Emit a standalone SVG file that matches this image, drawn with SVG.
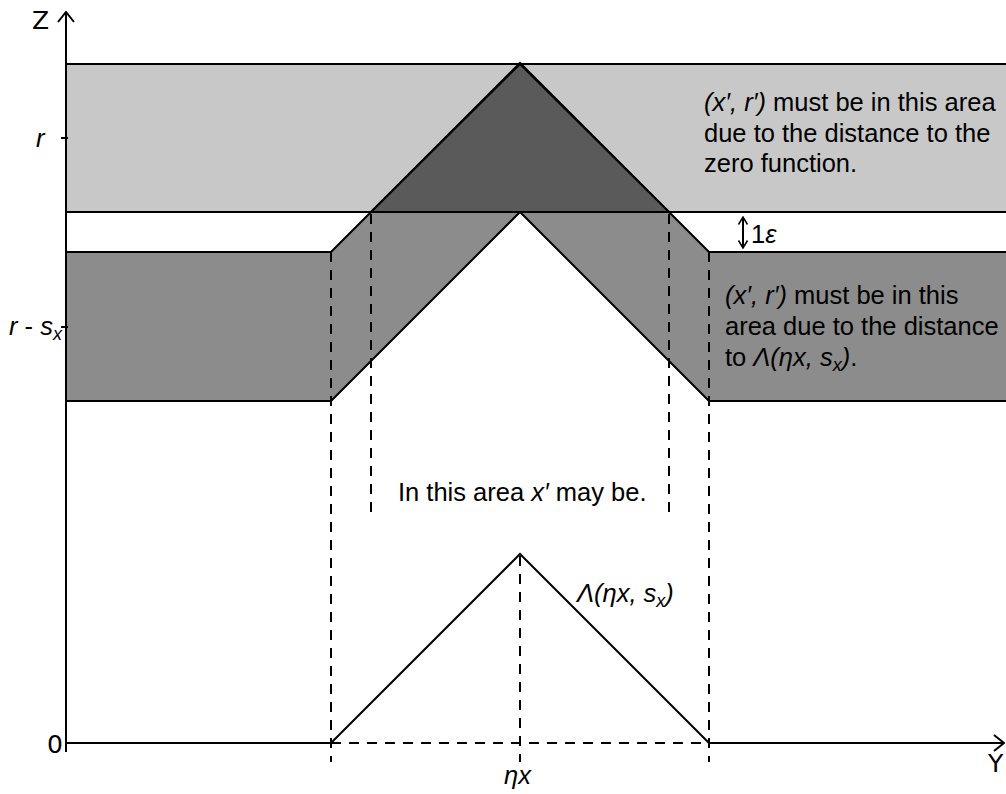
<svg xmlns="http://www.w3.org/2000/svg" width="1006" height="794" viewBox="0 0 1006 794">
<defs>
<style>
.ln{stroke:#000;stroke-width:2;fill:none}
.dash{stroke:#000;stroke-width:2;fill:none;stroke-dasharray:10,8}
.t{font-family:"Liberation Sans",Arial,sans-serif;font-size:25.5px;fill:#000}
.ax{font-family:"DejaVu Sans",sans-serif;font-size:25px;fill:#000}
.i{font-style:italic}
.sub{font-size:18px}
</style>
<marker id="open" viewBox="0 0 12 18" refX="11" refY="9" markerWidth="12" markerHeight="18" markerUnits="userSpaceOnUse" orient="auto-start-reverse">
<path d="M1,1 L11,9 L1,17" fill="none" stroke="#000" stroke-width="2"/>
</marker>
<marker id="small" viewBox="0 0 12 14" refX="11" refY="7" markerWidth="9" markerHeight="12" markerUnits="userSpaceOnUse" orient="auto-start-reverse">
<path d="M1,1 L11,7 L1,13" fill="none" stroke="#000" stroke-width="2"/>
</marker>
</defs>
<rect width="1006" height="794" fill="#fff"/>
<g id="zero-band">
<rect x="66" y="64" width="945" height="148" fill="#c8c8c8" stroke="#000" stroke-width="2"/>
</g>
<g id="lambda-band">
<polygon points="66,252 331,252 371,212 669,212 709,252 1010,252 1010,401 709,401 520,212 331,401 66,401" fill="#8c8c8c"/>
<polyline class="ln" points="66,252 331,252 520,63 709,252 1010,252"/>
<polyline class="ln" points="66,401 331,401 520,212 709,401 1010,401"/>
</g>
<g id="overlap">
<polygon points="371,212 520,64 669,212" fill="#5a5a5a" stroke="#000" stroke-width="2"/>
</g>
<g id="connectors">
<line class="dash" x1="331" y1="252" x2="331" y2="762"/>
<line class="dash" x1="709" y1="252" x2="709" y2="762"/>
<line class="dash" x1="371" y1="214" x2="371" y2="518"/>
<line class="dash" x1="669" y1="214" x2="669" y2="512"/>
<line class="dash" x1="520" y1="556" x2="520" y2="762"/>
<line class="dash" x1="331" y1="743" x2="709" y2="743"/>
<polyline class="ln" points="331,743 520,554 709,743"/>
<line class="ln" x1="66" y1="743" x2="331" y2="743"/>
<line class="ln" x1="709" y1="743" x2="1004" y2="743" marker-end="url(#open)"/>
<line class="ln" x1="66" y1="752" x2="66" y2="12" marker-end="url(#open)"/>
<line class="ln" x1="61" y1="138" x2="68" y2="138"/>
<line class="ln" x1="61" y1="327" x2="68" y2="327"/>
<line class="ln" x1="743" y1="217" x2="743" y2="248" marker-start="url(#small)" marker-end="url(#small)"/>
</g>
<g id="labels">
<text class="ax" x="32" y="29">Z</text>
<text class="ax" x="988" y="772">Y</text>
<text class="ax" x="47" y="753">0</text>
<text class="t i" x="36" y="147">r</text>
<text class="t" x="9" y="335"><tspan class="i">r</tspan> - <tspan class="i">s</tspan><tspan class="i sub" dy="5">x</tspan></text>
<text class="t i" x="504" y="784">ηx</text>
<text class="t" x="751" y="243">1<tspan class="i">ε</tspan></text>
<text class="t" x="704" y="111"><tspan class="i">(x′, r′)</tspan> must be in this area</text>
<text class="t" x="704" y="142">due to the distance to the</text>
<text class="t" x="704" y="172">zero function.</text>
<text class="t" x="725" y="304"><tspan class="i">(x′, r′)</tspan> must be in this</text>
<text class="t" x="725" y="335">area due to the distance</text>
<text class="t" x="725" y="366">to <tspan class="i">Λ(ηx, s</tspan><tspan class="i sub" dy="5">x</tspan><tspan class="i" dy="-5">)</tspan>.</text>
<text class="t" x="398" y="501">In this area <tspan class="i">x′</tspan> may be.</text>
<text class="t i" x="577" y="602">Λ(ηx, s<tspan class="sub" dy="5">x</tspan><tspan dy="-5">)</tspan></text>
</g>
</svg>
